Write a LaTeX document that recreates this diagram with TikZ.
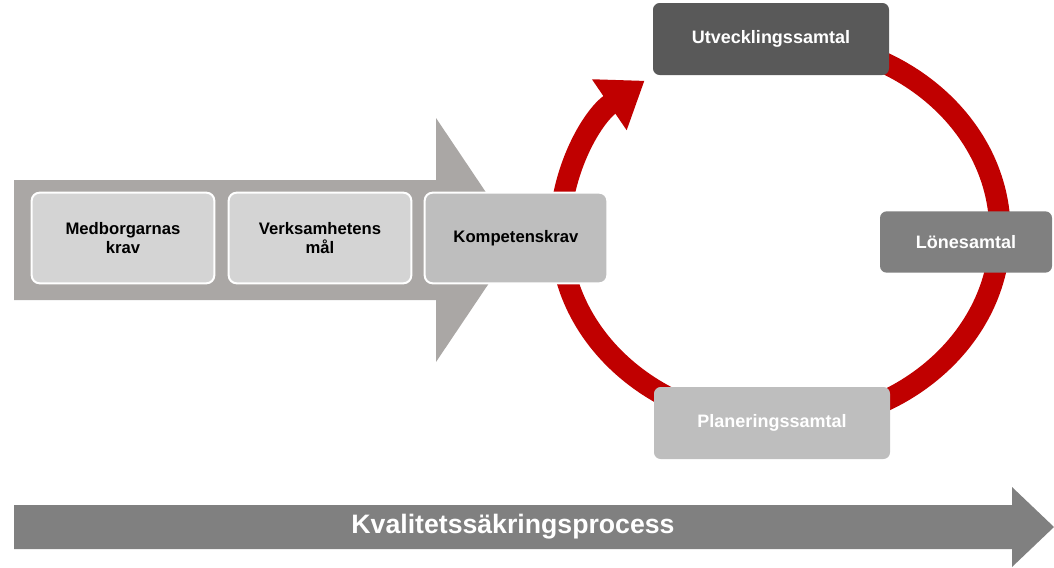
\documentclass[tikz,border=0pt]{standalone}
\usepackage{fontspec}
\setmainfont{Liberation Sans}
\usetikzlibrary{arrows.meta}
\definecolor{arrowgray}{RGB}{170,167,165}
\definecolor{boxlight}{RGB}{212,212,212}
\definecolor{boxmid}{RGB}{190,190,190}
\definecolor{boxdark}{RGB}{89,89,89}
\definecolor{boxgray}{RGB}{128,128,128}
\definecolor{ringred}{RGB}{192,0,0}
\tikzset{
  stepbox/.style={draw=white, line width=1.5pt, rounded corners=6pt, minimum height=68pt, minimum width=137pt, align=center, font=\fontsize{12.5}{14}\selectfont\bfseries},
  talkbox/.style={rounded corners=5pt, minimum height=54pt, minimum width=177pt, text=white, font=\fontsize{13.5}{15}\selectfont\bfseries}
}
\begin{document}
\begin{tikzpicture}[x=0.75pt, y=-0.75pt]
  \useasboundingbox (0,0) rectangle (1054,568);
  % big process arrow
  \fill[arrowgray] (14,180) -- (436,180) -- (436,118) -- (518,240) -- (436,362) -- (436,300) -- (14,300) -- cycle;
  % ring
  \draw[ringred, line width=16pt, -{Triangle[length=32pt, width=44pt]}]
    (780,232) ++(-90:220 and 192) arc[start angle=-90, end angle=232, x radius=220, y radius=192];
  % steps
  \node[stepbox, fill=boxlight] (medb) at (123,238) {Medborgarnas\\krav};
  \node[stepbox, fill=boxlight] (verk) at (320,238) {Verksamhetens\\mål};
  \node[stepbox, fill=boxmid] (komp) at (516,238) {Kompetenskrav};
  % talks
  \node[talkbox, fill=boxdark] (utv) at (771,39) {Utvecklingssamtal};
  \node[talkbox, fill=boxgray, minimum width=129pt, minimum height=46pt] (lon) at (966,242) {Lönesamtal};
  \node[talkbox, fill=boxmid] (plan) at (772,423) {Planeringssamtal};
  % bottom arrow
  \fill[boxgray] (14,505) -- (1012,505) -- (1012,487) -- (1054,527) -- (1012,567) -- (1012,549) -- (14,549) -- cycle;
  \node[text=white, font=\fontsize{20}{22}\selectfont\bfseries] (kval) at (513,527) {Kvalitetssäkringsprocess};
\end{tikzpicture}
\end{document}
